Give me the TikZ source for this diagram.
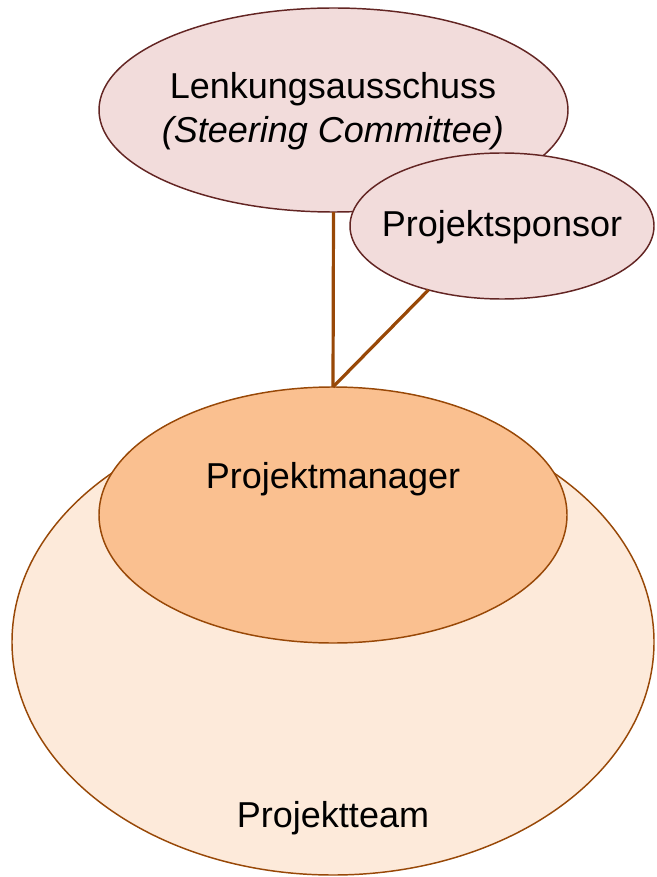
\documentclass[tikz,border=0pt]{standalone}
\usepackage{fontspec}
\setmainfont{Liberation Sans}
\usetikzlibrary{shapes.geometric}
\definecolor{roseFill}{HTML}{F2DCDB}
\definecolor{roseLine}{HTML}{632523}
\definecolor{pmFill}{HTML}{FAC090}
\definecolor{teamFill}{HTML}{FDEADA}
\definecolor{rustLine}{HTML}{984807}
\begin{document}
\begin{tikzpicture}[x=0.75pt,y=-0.75pt,
  oval/.style={ellipse,draw,inner sep=0pt,outer sep=0pt,line width=1.1pt},
  oval size/.style 2 args={minimum width=#1*0.75pt,minimum height=#2*0.75pt},
  rose/.style={oval,fill=roseFill,draw=roseLine},
  rust/.style={oval,draw=rustLine},
  label text/.style={font=\fontsize{27}{33}\selectfont,anchor=base,inner sep=0pt},
  link/.style={draw=rustLine,line width=2.4pt}]
  \useasboundingbox (0,0) rectangle (656,877);

  % team and manager
  \node[rust,fill=teamFill,oval size={642}{466}] (team) at (333,642) {};
  \node[rust,fill=pmFill,oval size={468}{256}] (pm) at (333,515) {};

  % steering committee and sponsor
  \node[rose,oval size={469}{204}] (steer) at (333.5,110) {};
  \node[rose,oval size={304}{146}] (sponsor) at (502,226) {};

  % reporting lines
  \draw[link] (steer.south) -- (pm.north);
  \draw[link] (sponsor.221) -- (pm.north);

  % labels
  \node[label text] (steerA) at (333,99) {Lenkungsausschuss};
  \node[label text] (steerB) at (333,143) {\itshape (Steering Committee)};
  \node[label text] (sponsorT) at (502,237) {Projektsponsor};
  \node[label text] (pmT) at (333,488) {Projektmanager};
  \node[label text] (teamT) at (333,827) {Projektteam};
\end{tikzpicture}
\end{document}
